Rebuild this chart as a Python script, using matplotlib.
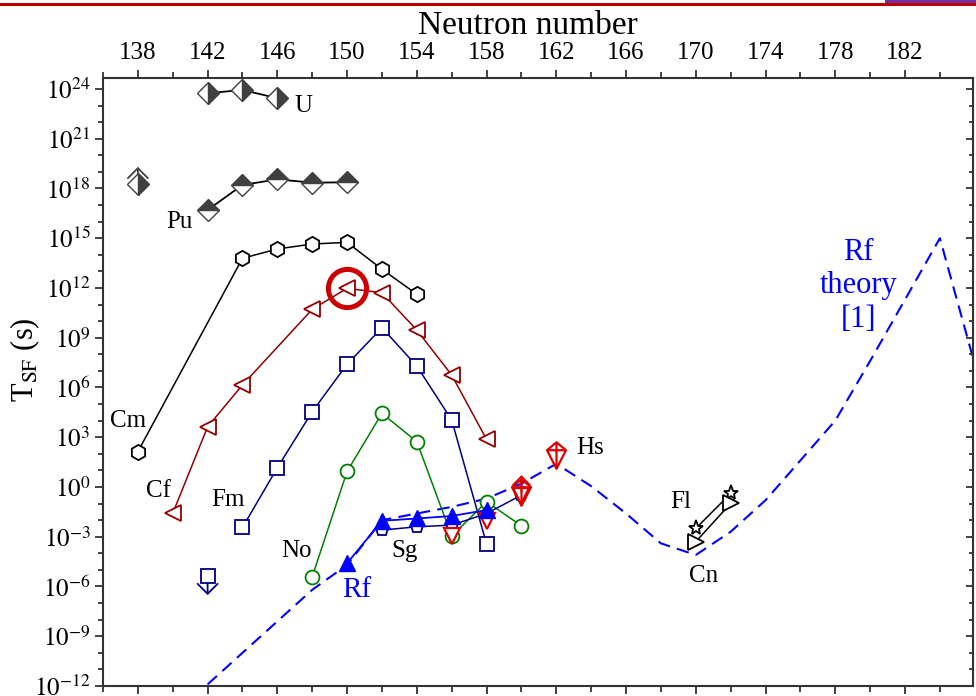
"""Spontaneous-fission half-lives vs neutron number, with Rf theory curve."""
import matplotlib
matplotlib.use("Agg")
import matplotlib.pyplot as plt
import numpy as np
from matplotlib.markers import MarkerStyle
from matplotlib.patches import Rectangle
from matplotlib.path import Path
from matplotlib.ticker import FixedLocator, FuncFormatter, NullFormatter

plt.rcParams["font.family"] = ["Liberation Serif", "DejaVu Serif"]
plt.rcParams["mathtext.fontset"] = "stix"

# ── data: neutron number and log10(T_SF / s) ───────────────────────────────
U_N = [142, 144, 146]
U_LOG = [23.74, 23.94, 23.44]
U_LIM_N = [138]
U_LIM_LOG = [18.27]

PU_N = [142, 144, 146, 148, 150]
PU_LOG = [16.7, 18.21, 18.55, 18.35, 18.37]

CM_N = [138, 144, 146, 148, 150, 152, 154]
CM_LOG = [2.13, 13.79, 14.35, 14.65, 14.75, 13.13, 11.62]

CF_N = [140, 142, 144, 148, 150, 152, 154, 156, 158]
CF_LOG = [-1.59, 3.63, 6.15, 10.71, 11.98, 11.71, 9.46, 6.75, 2.87]
CF_HIGHLIGHT_N = [150]
CF_HIGHLIGHT_LOG = [12.0]

FM_N = [144, 146, 148, 150, 152, 154, 156, 158]
FM_LOG = [-2.44, 1.16, 4.54, 7.4, 9.6, 7.29, 4.04, -3.44]
FM_LIM_N = [142]
FM_LIM_LOG = [-5.37]

NO_N = [148, 150, 152, 154, 156, 158, 160]
NO_LOG = [-5.41, 0.94, 4.44, 2.73, -2.96, -0.89, -2.34]

RF_N = [150, 152, 154, 156, 158]
RF_LOG = [-4.6, -2.04, -1.9, -1.75, -1.39]

SG_N = [152, 154, 156, 158, 160]
SG_LOG = [-2.6, -2.4, -2.3, -1.6, -0.49]

RED_N = [156, 158, 160]
RED_LOG = [-2.94, -2.04, -0.53]

HS_N = [162]
HS_LOG = [1.93]
HS_LIM_N = [160]
HS_LIM_LOG = [-0.29]

FL_N = [170, 172]
FL_LOG = [-2.5, -0.39]
CN_N = [170, 172]
CN_LOG = [-3.3, -0.99]

THEORY_N = [142, 144, 146, 148, 150, 152, 154, 156, 158, 160, 162, 164,
            166, 168, 170, 172, 174, 176, 178, 180, 182, 184, 186]
THEORY_LOG = [-11.9, -10.0, -8.1, -6.2, -4.7, -2.0, -1.6, -1.2, -0.7, 0.2,
              1.4, 0.05, -1.6, -3.4, -4.1, -2.7, -0.8, 1.6, 4.0, 7.6, 11.3,
              15.0, 7.4]

# element labels: (text, N, log10 T)
LABELS = [("U", 147.5, 22.97), ("Pu", 140.41, 15.95), ("Cm", 137.46, 3.96),
          ("Cf", 139.17, -0.26), ("Fm", 143.15, -0.78), ("No", 147.12, -3.83),
          ("Sg", 153.3, -3.84), ("Hs", 163.94, 2.35), ("Fl", 169.15, -0.9),
          ("Cn", 170.47, -5.35)]

BLUE = "#0000ff"
NAVY = "#000080"
DARKRED = "#900000"
RED = "#dd0000"
GREEN = "#008000"
GREY = "#404040"


def pw(vals):
    return 10.0 ** np.asarray(vals, dtype=float)


# kite-with-cross marker used for Hs
_kite = Path(
    [(0, 1), (0.72, 0.4), (0, -1), (-0.72, 0.4), (0, 1),
     (0, 1), (0, -1), (-0.72, 0.4), (0.72, 0.4)],
    [Path.MOVETO, Path.LINETO, Path.LINETO, Path.LINETO, Path.CLOSEPOLY,
     Path.MOVETO, Path.LINETO, Path.MOVETO, Path.LINETO])
KITE = MarkerStyle(_kite)

fig = plt.figure(figsize=(9.76, 6.96), dpi=100)
ax = fig.add_axes([103 / 976, 10 / 696, 870 / 976, 608 / 696])
ax.set_yscale("log")
ax.set_xlim(136, 185.9)
ax.set_ylim(1e-12, 10 ** 24.66)

# ── theory curve ───────────────────────────────────────────────────────────
ax.plot(THEORY_N, pw(THEORY_LOG), color=BLUE, lw=1.5, ls=(0, (6, 3.5)), zorder=1)

open_kw = dict(markerfacecolor="white", markeredgewidth=1.3, lw=1.1)
half_kw = dict(marker="D", ms=11, markerfacecolor=GREY, markerfacecoloralt="white",
               markeredgecolor=GREY, markeredgewidth=1.0)

# U and Pu half-filled diamonds
ax.plot(U_N, pw(U_LOG), color="black", fillstyle="right", lw=1.3, zorder=3,
        **half_kw)
ax.annotate("", xy=(U_LIM_N[0], pw(U_LIM_LOG[0] + 1.03)),
            xytext=(U_LIM_N[0], pw(U_LIM_LOG[0])),
            arrowprops=dict(arrowstyle="->, head_length=0.36, head_width=0.36",
                            color=GREY, lw=1.3, shrinkA=0, shrinkB=0,
                            mutation_scale=20), zorder=2)
ax.plot(U_LIM_N, pw(U_LIM_LOG), ls="none", fillstyle="right", zorder=3, **half_kw)
ax.plot(PU_N, pw(PU_LOG), color="black", fillstyle="top", lw=1.3, zorder=3,
        **half_kw)

# Cm, Cf, Fm, No
ax.plot(CM_N, pw(CM_LOG), color="black", marker="h", ms=11, **open_kw, zorder=3)
ax.plot(CF_N, pw(CF_LOG), color=DARKRED, marker="<", ms=11, **open_kw, zorder=3)
ax.plot(CF_HIGHLIGHT_N, pw(CF_HIGHLIGHT_LOG), ls="none", marker="o", ms=27.5,
        markerfacecolor="none", markeredgecolor="#cc0000", markeredgewidth=3.6,
        zorder=4)
ax.plot(FM_N, pw(FM_LOG), color=NAVY, marker="s", ms=9.5, **open_kw, zorder=3)
ax.annotate("", xy=(FM_LIM_N[0], pw(FM_LIM_LOG[0] - 1.15)),
            xytext=(FM_LIM_N[0], pw(FM_LIM_LOG[0])),
            arrowprops=dict(arrowstyle="->, head_length=0.36, head_width=0.36",
                            color=NAVY, lw=1.3, shrinkA=0, shrinkB=0,
                            mutation_scale=20), zorder=2)
ax.plot(FM_LIM_N, pw(FM_LIM_LOG), ls="none", marker="s", ms=9.5,
        markerfacecolor="white", markeredgecolor=NAVY, markeredgewidth=1.3,
        zorder=3)
ax.plot(NO_N, pw(NO_LOG), color=GREEN, marker="o", ms=10, **open_kw, zorder=3)

# Sg, Rf, red triangles, Hs
ax.plot(SG_N, pw(SG_LOG), color=NAVY, marker="p", ms=9.5, **open_kw, zorder=4)
ax.plot(RED_N, pw(RED_LOG), ls="none", marker="v", ms=12, markerfacecolor="white",
        markeredgecolor=RED, markeredgewidth=1.6, zorder=5)
ax.plot(RF_N, pw(RF_LOG), color=BLUE, marker="^", ms=12, lw=1.3,
        markerfacecolor=BLUE, markeredgecolor=BLUE, zorder=6)
ax.annotate("", xy=(HS_LIM_N[0], pw(HS_LIM_LOG[0] + 1.0)),
            xytext=(HS_LIM_N[0], pw(HS_LIM_LOG[0])),
            arrowprops=dict(arrowstyle="->, head_length=0.3, head_width=0.3",
                            color=RED, lw=1.3, shrinkA=0, shrinkB=0,
                            mutation_scale=20), zorder=6)
ax.plot(HS_LIM_N, pw(HS_LIM_LOG), ls="none", marker=KITE, ms=19,
        markerfacecolor="none", markeredgecolor=RED, markeredgewidth=1.6, zorder=6)
ax.plot(HS_N, pw(HS_LOG), ls="none", marker=KITE, ms=19,
        markerfacecolor="white", markeredgecolor=RED, markeredgewidth=1.6, zorder=6)

# Fl and Cn
ax.plot(FL_N, pw(FL_LOG), color="black", marker="*", ms=11, **open_kw, zorder=3)
ax.plot(CN_N, pw(CN_LOG), color="black", marker=">", ms=11, **open_kw, zorder=3)

# ── labels ─────────────────────────────────────────────────────────────────
for name, n, lg in LABELS:
    ax.text(n, 10 ** lg, name, fontsize=18, ha="center", va="center", zorder=7)
ax.text(150.56, 10 ** -6.21, "Rf", fontsize=21, color=BLUE,
        ha="center", va="center", zorder=7)
ax.text(179.32, 10 ** 12.12, "Rf\ntheory\n[1]", fontsize=22, color=BLUE,
        ha="center", va="center", linespacing=1.2, zorder=7)

# ── axes styling ───────────────────────────────────────────────────────────
SPINE = "#333333"
for s in ax.spines.values():
    s.set_color(SPINE)
    s.set_linewidth(1.5)

ax.xaxis.set_major_locator(FixedLocator(np.arange(138, 186, 4)))
ax.xaxis.set_minor_locator(FixedLocator(np.arange(136, 187, 2)))
ax.tick_params(axis="x", which="both", top=True, bottom=True, labeltop=True,
               labelbottom=False, direction="out", colors=SPINE,
               labelcolor="black", labelsize=18, width=1.3, pad=4)
ax.tick_params(axis="x", which="major", length=6)
ax.tick_params(axis="x", which="minor", length=4)

ymaj = FixedLocator([10.0 ** k for k in range(-12, 25, 3)])
ymin = FixedLocator([10.0 ** k for k in range(-12, 25)])
ax.yaxis.set_major_locator(ymaj)
ax.yaxis.set_minor_locator(ymin)
ax.yaxis.set_major_formatter(
    FuncFormatter(lambda v, p: r"$10^{%d}$" % int(round(np.log10(v)))))
ax.yaxis.set_minor_formatter(NullFormatter())
ax.tick_params(axis="y", which="both", left=True, right=False, direction="out",
               colors=SPINE, labelcolor="black", labelsize=18, width=1.3, pad=3)
ax.tick_params(axis="y", which="major", length=6)
ax.tick_params(axis="y", which="minor", length=3.5)

# right-hand ticks point inward
axr = ax.twinx()
axr.set_yscale("log")
axr.set_ylim(ax.get_ylim())
axr.yaxis.set_major_locator(FixedLocator([10.0 ** k for k in range(-12, 25, 3)]))
axr.yaxis.set_minor_locator(FixedLocator([10.0 ** k for k in range(-12, 25)]))
axr.yaxis.set_major_formatter(NullFormatter())
axr.yaxis.set_minor_formatter(NullFormatter())
axr.tick_params(axis="y", which="both", direction="in", colors=SPINE, width=1.3)
axr.tick_params(axis="y", which="major", length=5)
axr.tick_params(axis="y", which="minor", length=3)
for s in axr.spines.values():
    s.set_visible(False)

fig.text(527.5 / 976, 1 - 33.5 / 696, "Neutron number", fontsize=24,
         ha="center", va="baseline")
fig.text(25 / 976, 1 - 360 / 696, r"T$_{\mathrm{SF}}$ (s)", fontsize=22,
         rotation=90, ha="center", va="center")

# slide decoration along the top edge
fig.add_artist(Rectangle((0, 1 - 5.5 / 696), 1, 2 / 696, transform=fig.transFigure,
                         color="#c00000", lw=0))
fig.add_artist(Rectangle((885 / 976, 1 - 3 / 696), 91 / 976, 3 / 696,
                         transform=fig.transFigure, color="#7030a0", lw=0))

fig.savefig("out.png", dpi=100)
